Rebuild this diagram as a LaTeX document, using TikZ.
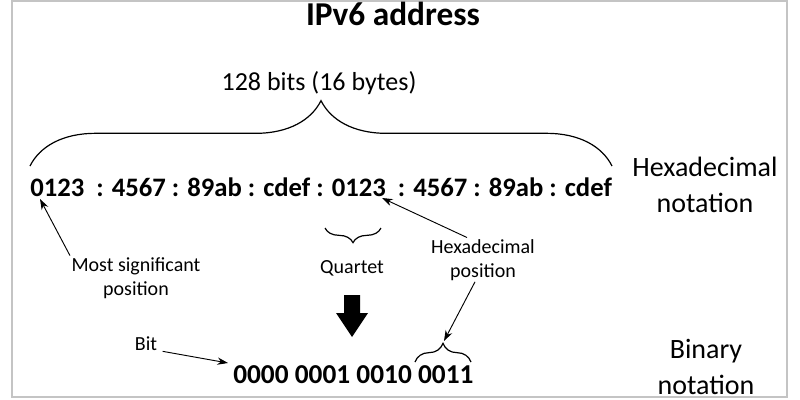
\documentclass[tikz,border=0pt]{standalone}
\usepackage{fontspec}
\setmainfont{Carlito}
\usepackage{tikz}
\usetikzlibrary{arrows.meta,decorations.pathreplacing}
\definecolor{framegray}{HTML}{C4C4C4}

\begin{document}
\begin{tikzpicture}[x=0.75pt,y=-0.75pt,
  headline/.style={font=\fontsize{25}{30}\selectfont\bfseries,anchor=base,inner sep=0pt},
  digits/.style={font=\fontsize{#1}{24}\selectfont\bfseries,inner sep=0pt},
  sidelabel/.style={font=\fontsize{21}{26.5}\selectfont,align=center,anchor=base,inner sep=0pt},
  smalllabel/.style={font=\fontsize{15}{18}\selectfont,align=center,anchor=base,inner sep=0pt},
  pointer/.style={-{Stealth[length=8pt,width=5.5pt]},line width=0.7pt},
  curly/.style={decorate,decoration={brace,amplitude=#1},line width=0.9pt}]
  \useasboundingbox (0,0) rectangle (800,400);
  \draw[framegray,line width=1pt] (12,1) rectangle (787,397);

  \node[headline] (title) at (393,25) {IPv6 address};
  \node[font=\fontsize{19.5}{24}\selectfont,anchor=base,inner sep=0pt] (size) at (319,90) {128 bits (16 bytes)};

  \coordinate (bigL) at (30,166);
  \coordinate (bigR) at (612,166);
  \draw[curly=49pt] (bigL) -- (bigR);

  \node[digits=20,anchor=base west] (hex) at (30,196) {0123\ \ : 4567 : 89ab : cdef : 0123\ \ : 4567 : 89ab : cdef};
  \node[sidelabel] (hexnot) at (705,212) {Hexadecimal\\notation};

  \node[smalllabel] (msd) at (136,295) {Most significant\\position};
  \coordinate (msdtip) at (40,199);
  \draw[pointer] ([xshift=-1pt,yshift=1pt]msd.north west) -- (msdtip);

  \coordinate (qR) at (381,228);
  \coordinate (qL) at (325,228);
  \draw[curly=11pt] (qR) -- (qL);
  \node[smalllabel] (quartet) at (352,273) {Quartet};

  \node[smalllabel] (hexpos) at (483,277) {Hexadecimal\\position};
  \coordinate (hextip) at (382,198);
  \draw[pointer] ([xshift=-12pt,yshift=1pt]hexpos.north) -- (hextip);

  \fill (344,295) -- (360,295) -- (360,313) -- (368,313) -- (352,337) -- (336,313) -- (344,313) -- cycle;

  \coordinate (nibL) at (415,362);
  \coordinate (nibR) at (471,362);
  \draw[curly=14pt] (nibL) -- (nibR);
  \coordinate (nibtip) at (444,341);
  \draw[pointer] ([xshift=-6pt,yshift=-1pt]hexpos.south) -- (nibtip);

  \node[digits=20.5,anchor=base west] (bin) at (233,383) {0000 0001 0010 0011};
  \node[smalllabel] (bit) at (146,350) {Bit};
  \coordinate (bittip) at (228,363);
  \draw[pointer] ([xshift=4pt,yshift=-1pt]bit.base east) -- (bittip);

  \node[sidelabel] (binnot) at (706,394) {Binary\\notation};
\end{tikzpicture}
\end{document}
